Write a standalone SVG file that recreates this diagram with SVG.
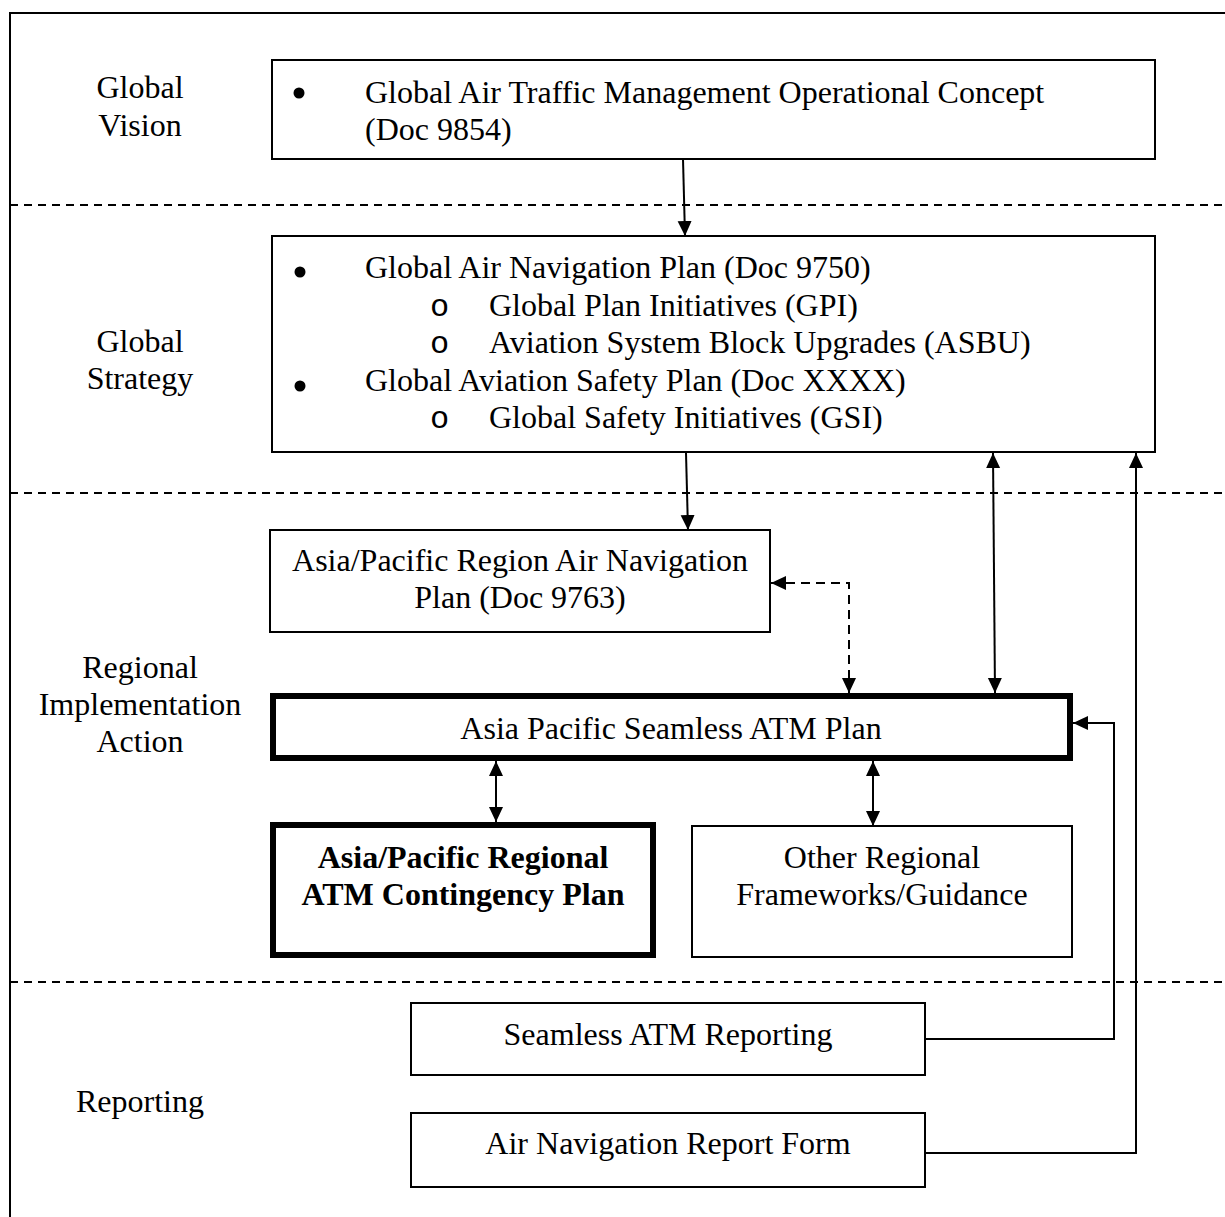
<svg xmlns="http://www.w3.org/2000/svg" width="1225" height="1217" viewBox="0 0 1225 1217">
<style>
text{font-family:"Liberation Serif","Times New Roman",serif;font-size:32px;fill:#000}
.c{text-anchor:middle}
.b{font-weight:bold}
.box{fill:#fff;stroke:#000;stroke-width:2}
.thick{fill:#fff;stroke:#000;stroke-width:6}
.sep{stroke:#000;stroke-width:2;stroke-dasharray:8 6;fill:none}
.ln{stroke:#000;stroke-width:2;fill:none}
.dash{stroke:#000;stroke-width:2;fill:none;stroke-dasharray:9 6}
.sub{font-family:"Liberation Mono","Courier New",monospace;font-size:32px;font-weight:normal}
</style>
<defs>
<marker id="ah" markerUnits="userSpaceOnUse" markerWidth="15" markerHeight="15" refX="15" refY="7" orient="auto-start-reverse">
<path d="M0,0 L15,7 L0,14 Z" fill="#000"/>
</marker>
</defs>
<rect width="1225" height="1217" fill="#fff"/>
<g id="frame">
<path class="ln" d="M10,1217 V13 H1225"/>
<line class="sep" x1="10" y1="205" x2="1225" y2="205"/>
<line class="sep" x1="10" y1="493" x2="1225" y2="493"/>
<line class="sep" x1="10" y1="982" x2="1225" y2="982"/>
</g>
<g id="labels">
<text class="c" x="140" y="98">Global</text>
<text class="c" x="140" y="136">Vision</text>
<text class="c" x="140" y="352">Global</text>
<text class="c" x="140" y="389">Strategy</text>
<text class="c" x="140" y="678">Regional</text>
<text class="c" x="140" y="715">Implementation</text>
<text class="c" x="140" y="752">Action</text>
<text class="c" x="140" y="1112">Reporting</text>
</g>
<g id="vision">
<rect class="box" x="272" y="60" width="883" height="99"/>
<circle cx="299" cy="93" r="5.5"/>
<text x="365" y="103">Global Air Traffic Management Operational Concept</text>
<text x="365" y="140">(Doc 9854)</text>
</g>
<g id="strategy">
<rect class="box" x="272" y="236" width="883" height="216"/>
<circle cx="300" cy="272" r="5.5"/>
<text x="365" y="278">Global Air Navigation Plan (Doc 9750)</text>
<text class="sub" x="430" y="316">o</text>
<text x="489" y="316">Global Plan Initiatives (GPI)</text>
<text class="sub" x="430" y="353">o</text>
<text x="489" y="353">Aviation System Block Upgrades (ASBU)</text>
<circle cx="300" cy="386" r="5.5"/>
<text x="365" y="391">Global Aviation Safety Plan (Doc XXXX)</text>
<text class="sub" x="430" y="428">o</text>
<text x="489" y="428">Global Safety Initiatives (GSI)</text>
</g>
<g id="apanp">
<rect class="box" x="270" y="530" width="500" height="102"/>
<text class="c" x="520" y="571">Asia/Pacific Region Air Navigation</text>
<text class="c" x="520" y="608">Plan (Doc 9763)</text>
</g>
<g id="seamless">
<rect class="thick" x="273" y="696" width="797" height="62"/>
<text class="c" x="671" y="739">Asia Pacific Seamless ATM Plan</text>
</g>
<g id="contingency">
<rect class="thick" x="273" y="825" width="380" height="130"/>
<text class="c b" x="463" y="868">Asia/Pacific Regional</text>
<text class="c b" x="463" y="905">ATM Contingency Plan</text>
</g>
<g id="other">
<rect class="box" x="692" y="826" width="380" height="131"/>
<text class="c" x="882" y="868">Other Regional</text>
<text class="c" x="882" y="905">Frameworks/Guidance</text>
</g>
<g id="seamlessrep">
<rect class="box" x="411" y="1003" width="514" height="72"/>
<text class="c" x="668" y="1045">Seamless ATM Reporting</text>
</g>
<g id="anrf">
<rect class="box" x="411" y="1113" width="514" height="74"/>
<text class="c" x="668" y="1154">Air Navigation Report Form</text>
</g>
<g id="connectors">
<line class="ln" x1="683" y1="159" x2="685" y2="236" marker-end="url(#ah)"/>
<line class="ln" x1="686" y1="453" x2="688" y2="530" marker-end="url(#ah)"/>
<path class="dash" d="M771,583 H849 V693" marker-start="url(#ah)" marker-end="url(#ah)"/>
<line class="ln" x1="993" y1="453" x2="995" y2="693" marker-start="url(#ah)" marker-end="url(#ah)"/>
<line class="ln" x1="496" y1="761" x2="496" y2="822" marker-start="url(#ah)" marker-end="url(#ah)"/>
<line class="ln" x1="873" y1="761" x2="873" y2="826" marker-start="url(#ah)" marker-end="url(#ah)"/>
<path class="ln" d="M925,1039 H1114 V723 H1073" marker-end="url(#ah)"/>
<path class="ln" d="M925,1153 H1136 V453" marker-end="url(#ah)"/>
</g>
</svg>
